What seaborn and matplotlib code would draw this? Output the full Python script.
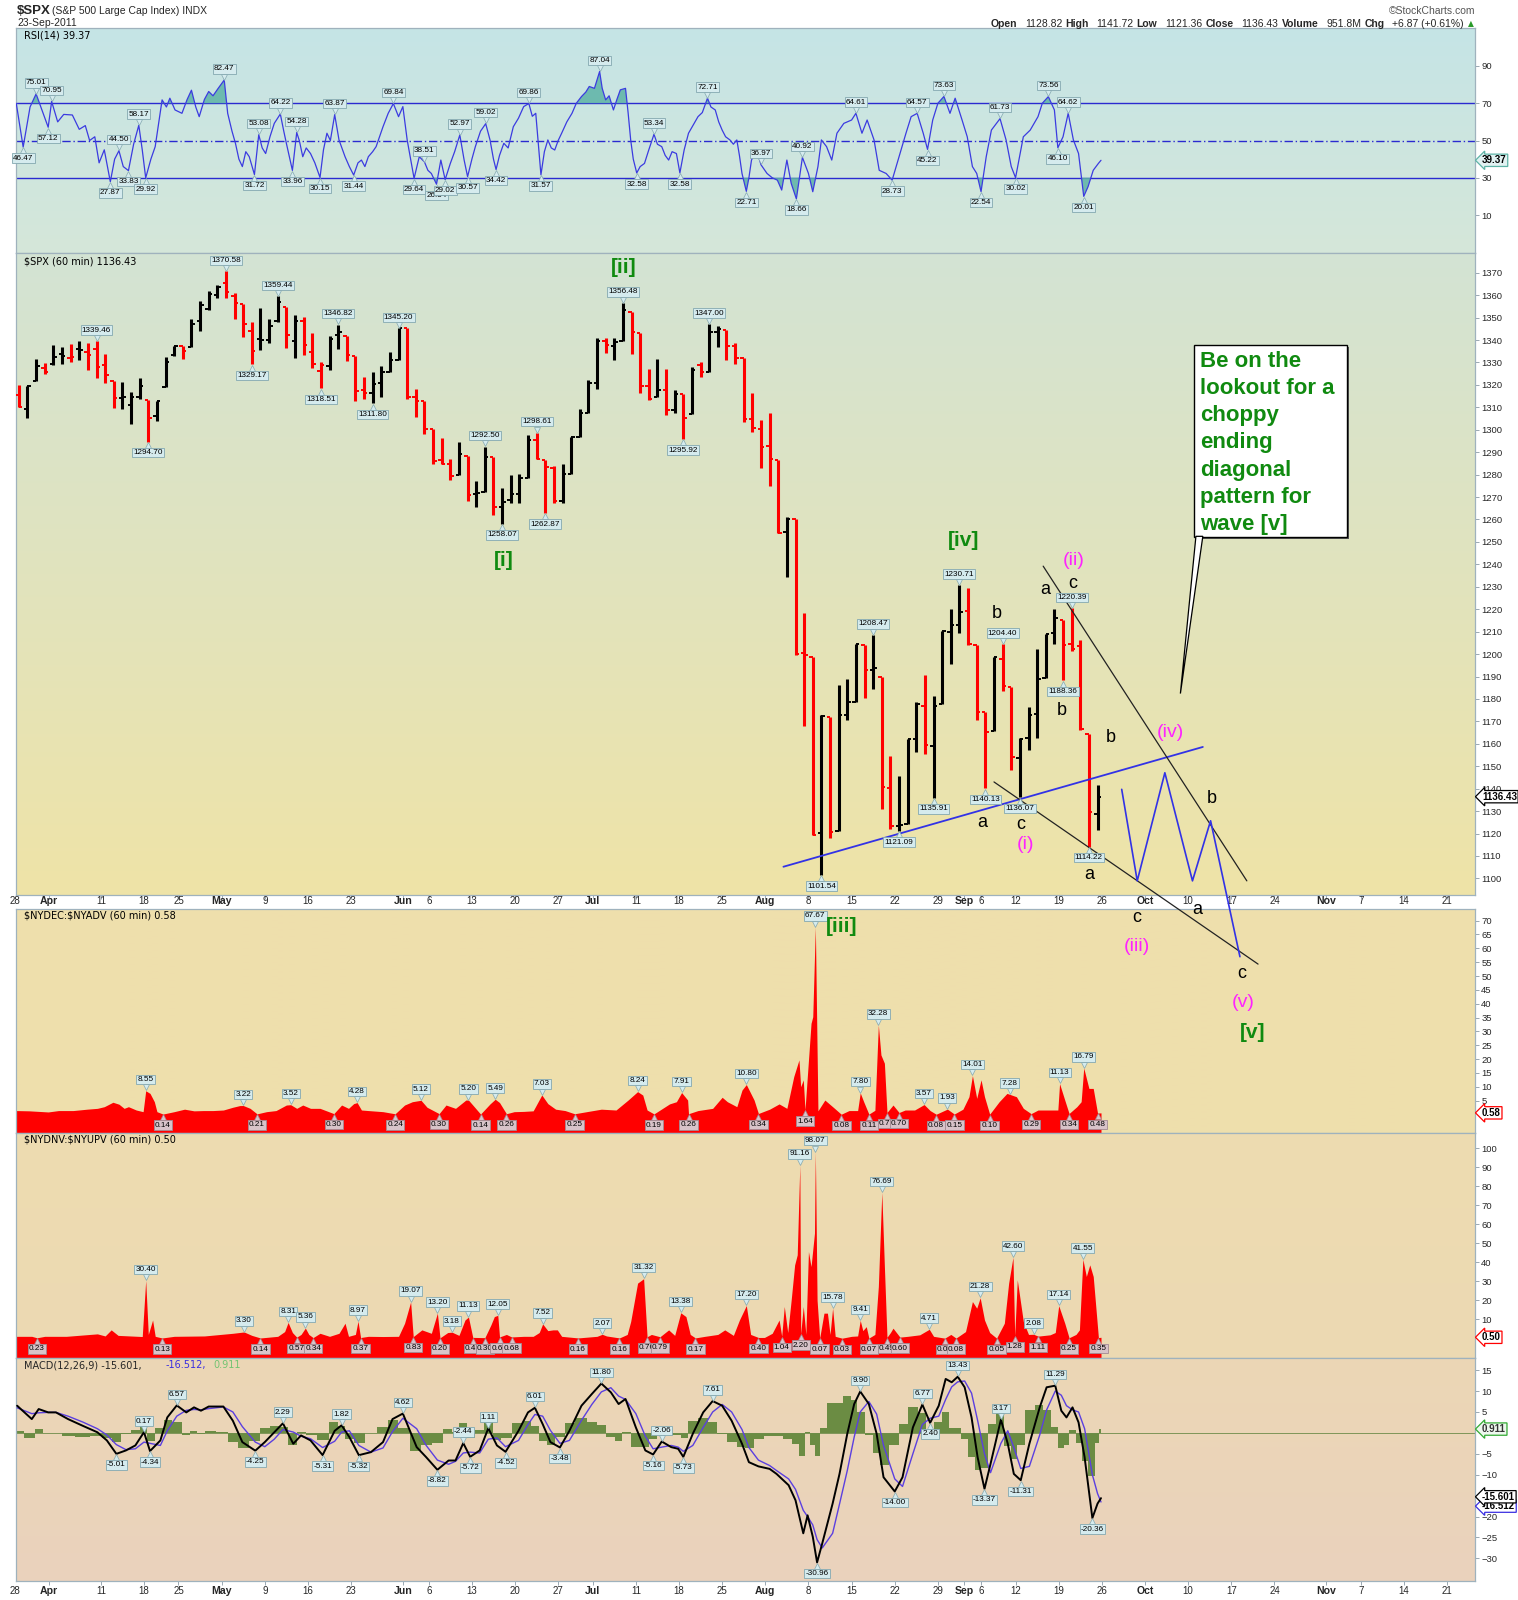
import numpy as np
import pandas as pd
import matplotlib
matplotlib.use("Agg")
import matplotlib.pyplot as plt
import matplotlib.transforms as mtransforms
from matplotlib.colors import LinearSegmentedColormap
from matplotlib.patches import Rectangle, Polygon
import seaborn as sns

sns.set_style("white")
plt.rcParams['font.family'] = ['Liberation Sans', 'DejaVu Sans']

# ---------------- trading calendar / axis labels ----------------
holidays = ['2011-04-22', '2011-05-30', '2011-07-04', '2011-09-05', '2011-11-24']
days = pd.bdate_range('2011-03-28', '2011-11-25')
days = days[~days.isin(pd.to_datetime(holidays))]

tick_dates = ['2011-03-28', '2011-04-01', '2011-04-11', '2011-04-18', '2011-04-25', '2011-05-02',
              '2011-05-09', '2011-05-16', '2011-05-23', '2011-06-01', '2011-06-06', '2011-06-13',
              '2011-06-20', '2011-06-27', '2011-07-01', '2011-07-11', '2011-07-18', '2011-07-25',
              '2011-08-01', '2011-08-08', '2011-08-15', '2011-08-22', '2011-08-29', '2011-09-01',
              '2011-09-06', '2011-09-12', '2011-09-19', '2011-09-26', '2011-10-03', '2011-10-10',
              '2011-10-17', '2011-10-24', '2011-11-01', '2011-11-07', '2011-11-14', '2011-11-21']
tick_labels = ['28', 'Apr', '11', '18', '25', 'May', '9', '16', '23', 'Jun', '6', '13', '20', '27',
               'Jul', '11', '18', '25', 'Aug', '8', '15', '22', '29', 'Sep', '6', '12', '19', '26',
               'Oct', '10', '17', '24', 'Nov', '7', '14', '21']

# ---------------- $SPX daily OHLC (Mar 28 - Sep 23, 2011) ----------------
spx_open = [
    1315.45, 1309.37, 1321.89, 1327.44, 1329.48,
    1333.56, 1332.03, 1335.94, 1334.82, 1336.16,
    1329.01, 1321.96, 1314.03, 1311.13, 1314.54,
    1313.35, 1305.99, 1319.12, 1333.23,
    1337.14, 1336.75, 1348.43, 1353.86, 1360.14,
    1365.21, 1359.76, 1355.90, 1344.16, 1340.24,
    1340.20, 1348.34, 1354.51, 1339.39, 1348.69,
    1334.77, 1326.10, 1328.54, 1342.40, 1342.00,
    1333.07, 1317.70, 1316.36, 1320.64, 1325.69,
    1331.10, 1345.20, 1314.55, 1312.94,
    1300.26, 1286.31, 1284.63, 1279.63, 1288.26,
    1271.31, 1272.22, 1287.87, 1265.53, 1268.58,
    1271.50, 1278.40, 1295.48, 1286.60, 1283.04,
    1268.44, 1280.21, 1296.85, 1307.64, 1320.64,
    1339.59, 1337.56, 1339.62, 1352.39,
    1343.31, 1319.61, 1314.45, 1317.74, 1308.87,
    1315.94, 1307.07, 1328.66, 1325.65, 1343.80,
    1344.32, 1337.39, 1331.91, 1304.84, 1300.12,
    1292.59, 1286.56, 1254.25, 1260.23, 1200.28,
    1198.48, 1120.23, 1171.77, 1121.30, 1172.87,
    1178.86, 1204.22, 1192.89, 1189.62, 1140.47,
    1123.55, 1124.36, 1162.16, 1176.69, 1158.85,
    1177.91, 1209.76, 1213.00, 1219.12, 1203.90,
    1173.97, 1165.85, 1197.98, 1185.37,
    1153.50, 1162.59, 1173.32, 1189.44, 1209.21,
    1214.99, 1204.50, 1203.63, 1164.55, 1128.82]
spx_high = [
    1319.74, 1319.45, 1331.74, 1329.77, 1337.85,
    1336.74, 1338.21, 1339.38, 1338.80, 1339.46,
    1333.77, 1321.96, 1321.35, 1316.79, 1322.88,
    1313.35, 1312.70, 1332.66, 1337.49,
    1337.55, 1349.55, 1357.49, 1361.71, 1364.56,
    1370.58, 1360.84, 1355.90, 1348.00, 1354.36,
    1349.44, 1359.44, 1354.51, 1351.05, 1350.47,
    1343.33, 1330.42, 1341.82, 1346.82, 1342.00,
    1333.07, 1323.72, 1325.86, 1328.51, 1334.62,
    1345.20, 1345.20, 1318.03, 1312.94,
    1300.26, 1296.22, 1287.04, 1294.54, 1288.26,
    1277.04, 1292.50, 1287.87, 1274.11, 1279.82,
    1280.42, 1297.62, 1298.61, 1286.60, 1283.93,
    1284.91, 1296.80, 1309.21, 1321.97, 1341.01,
    1340.89, 1340.94, 1356.48, 1352.39,
    1343.31, 1327.17, 1331.48, 1326.88, 1317.70,
    1315.94, 1328.14, 1330.43, 1347.00, 1346.10,
    1344.32, 1338.51, 1331.91, 1316.32, 1304.16,
    1307.38, 1286.56, 1261.20, 1260.23, 1218.11,
    1198.48, 1172.88, 1171.77, 1186.29, 1189.04,
    1204.49, 1204.22, 1208.47, 1189.62, 1154.54,
    1145.49, 1162.35, 1178.56, 1190.68, 1181.23,
    1210.28, 1220.10, 1230.71, 1229.29, 1203.90,
    1173.97, 1198.62, 1204.40, 1185.37,
    1162.52, 1176.41, 1202.38, 1209.11, 1220.06,
    1214.99, 1220.39, 1206.30, 1164.55, 1141.72]
spx_low = [
    1310.19, 1305.26, 1321.89, 1325.03, 1328.89,
    1329.10, 1330.03, 1331.09, 1326.56, 1322.94,
    1321.06, 1309.51, 1309.19, 1302.42, 1313.68,
    1294.70, 1303.97, 1319.12, 1332.81,
    1331.47, 1336.75, 1344.25, 1353.60, 1358.69,
    1358.59, 1349.52, 1341.50, 1329.17, 1335.58,
    1338.64, 1348.00, 1336.36, 1332.03, 1333.36,
    1327.32, 1318.51, 1326.59, 1336.12, 1330.67,
    1312.88, 1313.87, 1311.80, 1314.41, 1325.69,
    1331.10, 1313.71, 1305.61, 1297.90,
    1284.72, 1284.74, 1277.42, 1279.63, 1268.28,
    1265.64, 1272.22, 1261.90, 1258.07, 1267.40,
    1267.56, 1278.40, 1286.79, 1262.87, 1267.24,
    1267.53, 1280.21, 1296.85, 1307.64, 1318.18,
    1334.30, 1330.92, 1339.62, 1333.71,
    1316.42, 1313.33, 1314.45, 1306.51, 1307.35,
    1295.92, 1307.07, 1323.65, 1325.65, 1336.95,
    1331.09, 1329.10, 1303.49, 1299.16, 1282.86,
    1274.73, 1254.03, 1234.56, 1199.54, 1168.09,
    1119.28, 1101.54, 1118.01, 1121.30, 1170.74,
    1178.86, 1180.53, 1184.36, 1131.03, 1122.05,
    1121.09, 1124.36, 1156.30, 1155.47, 1135.91,
    1177.91, 1195.77, 1209.35, 1203.85, 1170.56,
    1140.13, 1165.85, 1183.34, 1148.37,
    1136.07, 1157.44, 1162.73, 1189.44, 1204.46,
    1188.36, 1201.29, 1166.21, 1114.22, 1121.36]
spx_close = [
    1310.19, 1319.44, 1328.26, 1325.83, 1332.41,
    1332.87, 1332.63, 1335.54, 1333.51, 1328.17,
    1324.46, 1314.16, 1314.41, 1314.52, 1319.68,
    1305.14, 1312.62, 1330.36, 1337.38,
    1335.25, 1347.24, 1355.66, 1360.48, 1363.61,
    1361.22, 1356.62, 1347.32, 1335.10, 1340.20,
    1346.29, 1357.16, 1342.08, 1348.65, 1337.77,
    1329.47, 1328.98, 1340.68, 1343.60, 1333.27,
    1317.37, 1316.28, 1320.47, 1325.69, 1331.10,
    1345.20, 1314.55, 1312.94, 1300.16,
    1286.17, 1284.94, 1279.56, 1289.00, 1270.98,
    1271.83, 1287.87, 1265.42, 1267.64, 1271.50,
    1278.36, 1295.52, 1287.14, 1283.50, 1268.45,
    1280.10, 1296.67, 1307.41, 1320.64, 1339.67,
    1337.88, 1339.22, 1353.22, 1343.80,
    1319.49, 1313.64, 1317.72, 1308.87, 1316.14,
    1305.44, 1326.73, 1325.84, 1343.80, 1345.02,
    1337.43, 1331.94, 1304.89, 1300.67, 1292.28,
    1286.94, 1254.05, 1260.34, 1200.07, 1199.38,
    1119.46, 1172.53, 1120.76, 1172.64, 1178.81,
    1204.49, 1192.76, 1193.89, 1140.65, 1123.53,
    1123.82, 1162.35, 1177.60, 1159.27, 1176.80,
    1210.08, 1212.92, 1218.89, 1204.42, 1173.97,
    1165.24, 1198.62, 1185.90, 1154.23,
    1162.27, 1172.87, 1188.68, 1209.11, 1216.01,
    1204.09, 1202.09, 1166.76, 1129.56, 1136.43]
spx_peak_days = [9, 24, 30, 37, 44, 54, 60, 70, 80, 99, 109, 114, 122]
spx_trough_days = [15, 27, 35, 41, 56, 61, 77, 93, 102, 106, 112, 116, 121, 124]

# ---------------- RSI(14) ----------------
rsi_x = [0.2, 1.0, 1.8, 2.5, 3.2, 3.9, 4.3, 5.0, 5.7, 6.7, 7.5, 8.2, 8.7, 9.3, 9.8, 10.4, 11.1, 11.6,
         12.1, 12.6, 13.2, 13.8, 14.4, 14.8, 15.2, 15.8, 16.3, 17.1, 17.6, 18.0, 18.6, 19.4, 20.0,
         20.5, 21.0, 21.4, 22.0, 22.5, 23.0, 23.6, 24.3, 24.7, 25.2, 25.6, 26.0, 26.4, 26.8, 27.2,
         27.8, 28.3, 28.7, 29.1, 29.6, 30.1, 30.8, 31.2, 31.5, 32.2, 32.7, 33.0, 33.4, 33.8, 34.3,
         34.8, 35.4, 35.8, 36.2, 36.6, 37.1, 37.6, 38.3, 38.8, 39.3, 39.8, 40.2, 40.6, 41.0, 41.5,
         41.9, 42.3, 42.7, 43.3, 43.9, 44.5, 45.0, 45.5, 45.9, 46.3, 46.9, 47.5, 47.9, 48.3, 48.9,
         49.4, 49.9, 50.5, 51.0, 51.6, 52.1, 52.5, 53.0, 53.4, 54.0, 54.6, 55.1, 55.5, 55.8, 56.2,
         56.7, 57.2, 57.8, 58.4, 59.0, 59.6, 60.0, 60.4, 60.7, 61.0, 61.4, 61.8, 62.2, 62.6, 63.0,
         63.4, 64.0, 64.6, 65.1, 65.7, 66.2, 66.6, 67.2, 67.8, 68.1, 68.5, 68.9, 69.4, 69.8, 70.2,
         70.8, 71.1, 71.4, 71.7, 72.1, 72.5, 73.0, 73.5, 74.1, 74.5, 75.0, 75.4, 75.8, 76.2, 76.7,
         77.1, 77.6, 78.1, 78.6, 79.2, 79.7, 80.3, 80.7, 81.2, 81.6, 82.0, 82.4, 82.9, 83.3, 83.7,
         84.0, 84.3, 84.8, 85.1, 85.4, 86.0, 86.5, 87.2, 87.8, 88.4, 88.9, 89.5, 90.0, 90.6, 91.3,
         92.0, 92.5, 93.1, 93.5, 94.1, 94.7, 95.3, 96.1, 97.0, 97.5, 98.2, 98.8, 99.6, 100.2, 101.0,
         101.7, 102.5, 103.3, 103.9, 104.6, 105.3, 105.8, 106.4, 107.0, 107.7, 108.4, 109.0, 109.8,
         110.4, 111.0, 111.5, 112.0, 112.6, 113.2, 114.2, 114.9, 115.5, 116.0, 116.9, 117.7, 118.6,
         119.1, 119.8, 120.5, 120.9, 121.5, 122.1, 122.7, 123.3, 123.9, 124.4, 125.0, 125.6, 125.9]
rsi_v = [70, 46.47, 68, 75.01, 66, 57.12, 70.95, 60, 64, 63.7, 56, 58, 50, 52, 38, 45, 27.87, 40,
         44.50, 36, 33.83, 48, 58.17, 45, 29.92, 40, 46.7, 71.8, 68, 72.7, 66.4, 64.6, 72,
         77, 68, 62.8, 72, 76.3, 74, 78, 82.47, 64.6, 55, 48.5, 40, 36, 44, 41.3,
         31.72, 53.08, 46, 43, 52, 59.2, 64.22, 55, 48.5, 33.96, 54.28, 50, 41.3, 46, 43,
         38, 30.15, 45, 53.9, 50, 63.87, 50.3, 41.3, 36, 31.44, 38, 39.5, 36, 41.3, 44,
         46.7, 52, 57.4, 64.6, 69.84, 62.8, 68.2, 50.3, 40, 29.64, 41.3, 38.51, 34, 32.3, 26.54,
         39.5, 29.02, 37.7, 44, 52.97, 39.5, 30.57, 40, 46.7, 55, 59.02, 50.3, 40, 34.42, 42,
         48.5, 46, 57.4, 62, 68.2, 69.86, 63, 64.6, 48, 31.57, 44, 50.3, 46, 44.9, 50,
         53.9, 60, 64.6, 70, 73.6, 76, 79, 78, 87.04, 78, 71.8, 74, 66.4, 72, 77.2,
         78, 65, 50.3, 40, 32.58, 36, 37.7, 45, 53.34, 48, 46.7, 42, 39.5, 44, 43,
         32.58, 45, 53.9, 58, 62.8, 65, 72.71, 68, 66.4, 60, 55.6, 52, 50.3, 48, 50.3,
         42, 32.3, 22.71, 30, 39.5, 44.9, 36.97, 32.3, 30, 28.7, 23.4, 39.5, 27, 18.66, 40.92,
         32.3, 22.5, 36, 50.3, 46.7, 39.5, 53.9, 59.2, 61, 64.61, 53.9, 61, 50.3, 34, 32.3,
         28.73, 41.3, 53.9, 62.8, 64.57, 53.9, 45.22, 61, 70, 73.63, 64.6, 72.7, 61,
         52, 36, 32.3, 22.54, 41.3, 55.6, 61.73, 50.3, 36, 30.02, 52, 55.6, 62.8,
         70, 73.56, 66.4, 46.10, 52, 64.62, 50.3, 43, 20.01, 25.2, 34, 37.7, 39.37]
rsi_peak_x = [2.5, 4.3, 12.1, 14.4, 24.3, 28.3, 30.8, 32.7, 37.1, 43.9, 47.5, 51.6, 54.6, 59.6,
              67.8, 74.1, 80.3, 86.5, 91.3, 97.5, 104.6, 107.7, 114.2, 119.8, 122.1]
rsi_trough_x = [1.0, 3.9, 11.1, 13.2, 15.2, 27.8, 32.2, 35.4, 39.3, 46.3, 48.9, 49.9, 52.5, 55.8,
                61.0, 72.1, 77.1, 84.8, 90.6, 101.7, 105.8, 112.0, 116.0, 120.9, 123.9]

# ---------------- $NYDEC:$NYADV ----------------
dec_x = [0.2, 1.7, 3.9, 5.1, 6.8, 8.4, 9.6, 10.4, 11.4, 12.1, 12.7, 13.2, 14.1, 14.9, 15.2, 15.7,
         16.2, 16.5, 17.2, 18.5, 19.7, 20.8, 21.9, 23.0, 24.2, 25.3, 26.1, 26.5, 27.3, 28.1, 29.2,
         30.3, 31.5, 32.0, 32.7, 33.4, 34.3, 35.4, 37.0, 37.9, 38.7, 39.3, 39.7, 40.2, 41.0, 42.7,
         44.1, 45.2, 46.1, 47.1, 47.8, 49.2, 50.0, 51.1, 52.3, 52.6, 53.1, 54.0, 55.1, 55.7, 56.2,
         57.0, 57.9, 59.0, 60.1, 61.1, 61.8, 62.7, 63.8, 64.9, 66.3, 68.0, 69.7, 71.1, 72.2, 72.8,
         73.3, 74.1, 75.9, 76.7, 77.3, 78.0, 78.1, 79.2, 80.9, 82.0, 82.6, 83.7, 84.3, 84.8, 85.7,
         86.2, 87.5, 88.6, 89.5, 90.3, 90.9, 91.1, 91.4, 91.6, 92.3, 92.5, 92.8, 93.1, 93.9, 94.8,
         95.8, 96.7, 97.7, 98.0, 98.4, 99.0, 99.7, 100.1, 100.4, 100.8, 101.1, 101.8, 102.5, 103.2,
         104.3, 105.4, 106.1, 106.8, 108.1, 108.9, 109.9, 110.6, 111.0, 111.5, 112.0, 112.4, 113.0,
         114.1, 115.0, 115.3, 116.1, 116.9, 117.8, 118.6, 120.0, 120.9, 121.1, 121.7, 122.2, 123.1,
         123.6, 123.9, 124.5, 125.0, 125.5, 125.9]
dec_v = [1.4, 1.3, 0.9, 1.4, 1.4, 1.9, 2.2, 2.8, 4.4, 3.7, 2.2, 2.8, 1.6, 1.0, 8.55, 7.6,
         4.6, 1.0, 0.14, 1.0, 1.9, 1.3, 1.4, 1.4, 1.6, 2.6, 3.2, 3.22, 2.2, 0.21, 1.0,
         1.4, 3.4, 3.52, 2.2, 3.4, 2.2, 2.2, 0.30, 3.4, 2.2, 3.9, 4.28, 1.6, 1.4, 1.0,
         0.24, 3.4, 4.6, 5.12, 2.6, 0.30, 3.4, 2.2, 5.2, 5.20, 3.4, 0.14, 3.8, 5.49, 4.3,
         0.26, 1.0, 1.1, 1.3, 7.03, 3.9, 1.9, 1.4, 0.25, 1.0, 1.9, 1.6, 5.2, 8.24, 7.0,
         1.6, 0.19, 3.8, 4.6, 7.91, 5.2, 0.26, 1.4, 2.2, 6.2, 4.6, 2.8, 8.8, 10.80, 5.2,
         0.34, 1.9, 3.8, 2.2, 13.7, 19.7, 10.0, 12.5, 1.64, 32.9, 35.3, 67.67, 1.3, 5.2, 2.8,
         0.08, 1.4, 1.4, 7.80, 4.6, 0.11, 1.5, 32.28, 21.5, 18.5, 0.71, 3.4, 0.7, 1.6,
         1.6, 3.57, 1.4, 0.08, 1.93, 0.15, 1.9, 6.4, 14.01, 5.8, 12.5, 6.4, 0.10,
         4.6, 7.6, 7.28, 6.4, 2.2, 0.29, 1.6, 1.6, 1.6, 11.13, 5.2, 0.34, 2.8,
         4.6, 16.79, 9.4, 9.4, 0.48, 0.58]
dec_peak_x = [15.2, 26.5, 32.0, 39.7, 47.1, 52.6, 55.7, 61.1, 72.2, 77.3, 84.8, 92.8, 98.0,
              100.1, 105.4, 108.1, 111.0, 115.3, 121.1, 123.9]
dec_trough_x = [17.2, 28.1, 37.0, 44.1, 49.2, 54.0, 57.0, 64.9, 74.1, 78.1, 86.2, 91.6, 95.8,
                99.0, 101.1, 102.5, 106.8, 108.9, 113.0, 117.8, 122.2, 125.5]

# ---------------- $NYDNV:$NYUPV ----------------
dnv_x = [0.2, 2.0, 2.6, 3.5, 6.0, 9.6, 10.5, 11.2, 12.0, 14.8, 15.2, 15.5, 16.0, 16.3, 17.1, 18.5,
         22.0, 25.3, 26.6, 27.5, 28.5, 30.5, 31.3, 31.7, 32.2, 32.7, 33.2, 33.7, 34.1, 34.6, 35.4,
         36.5, 37.6, 38.3, 38.7, 39.5, 39.8, 40.1, 41.0, 42.7, 44.5, 45.2, 45.9, 46.2, 47.2, 48.3,
         49.0, 49.3, 50.2, 50.7, 51.5, 52.2, 52.6, 53.1, 54.5, 55.2, 55.6, 56.0, 56.2, 57.0, 57.6,
         59.0, 60.1, 60.8, 61.2, 61.8, 62.4, 62.9, 63.4, 65.3, 67.5, 68.1, 68.6, 70.1, 71.0, 71.4,
         72.2, 72.9, 73.3, 73.8, 74.8, 75.8, 76.5, 77.2, 77.8, 78.3, 78.9, 80.0, 81.5, 82.3, 83.3,
         84.0, 84.8, 85.3, 86.2, 86.9, 87.8, 88.6, 88.9, 89.2, 89.6, 90.0, 90.4, 90.7, 91.0, 91.1,
         91.4, 91.7, 92.0, 92.3, 92.7, 92.8, 93.0, 93.3, 93.8, 94.2, 94.5, 94.8, 95.1, 95.9, 97.0,
         97.7, 98.0, 98.3, 98.7, 99.0, 99.7, 100.1, 100.5, 100.8, 101.1, 101.5, 101.8, 102.6, 103.5,
         104.9, 106.0, 106.5, 107.8, 108.5, 109.1, 110.2, 111.0, 111.5, 111.9, 112.4, 113.0, 113.8,
         114.7, 115.2, 115.7, 115.9, 116.2, 116.9, 117.5, 118.1, 118.6, 120.0, 120.6, 121.0, 121.7,
         122.2, 123.0, 123.4, 123.8, 124.2, 124.6, 125.0, 125.6, 125.9]
dnv_v = [1.0, 1.0, 0.23, 1.0, 1.0, 2.3, 1.2, 4.4, 1.5, 0.9, 30.40, 2.0, 9.6, 1.0, 0.13, 1.0,
         1.2, 2.6, 3.30, 1.5, 0.14, 1.0, 3.5, 8.31, 3.0, 0.57, 2.0, 5.36, 2.0, 0.34, 2.6,
         1.0, 2.6, 7.9, 1.0, 2.0, 8.97, 0.37, 1.0, 0.9, 1.0, 7.9, 19.07, 0.83, 4.4, 2.6,
         13.20, 0.20, 3.0, 3.18, 1.5, 9.6, 11.13, 0.45, 0.3, 7.0, 11.4, 12.05, 0.67, 2.0, 0.68,
         1.0, 1.0, 3.0, 7.52, 4.0, 4.4, 4.4, 1.0, 0.16, 1.0, 2.07, 1.2, 0.16, 2.0, 8.8,
         29.0, 31.32, 0.76, 2.0, 0.79, 4.4, 1.5, 13.38, 11.4, 2.0, 0.17, 1.0, 2.0, 4.4, 1.5,
         9.6, 17.20, 2.0, 0.4, 0.41, 2.6, 9.6, 1.04, 16.7, 3.0, 20.2, 38.6, 43.9, 91.16, 2.20,
         16.7, 2.0, 45.6, 37.7, 55.3, 98.07, 20.0, 0.07, 13.2, 13.2, 2.0, 15.78, 1.0, 0.03, 1.0,
         1.2, 9.41, 4.0, 6.1, 0.07, 2.0, 27.2, 76.69, 37.7, 0.49, 3.0, 5.3, 0.6, 1.0,
         1.8, 4.71, 1.0, 0.05, 2.0, 0.08, 3.5, 19.3, 15.8, 21.28, 9.6, 3.0, 0.05,
         7.9, 29.0, 42.60, 1.28, 30.7, 8.8, 2.0, 2.08, 1.11, 1.8, 3.0, 17.14, 7.9,
         0.25, 2.0, 4.4, 41.55, 32.5, 38.6, 32.5, 0.35, 0.50]
dnv_peak_x = [15.2, 26.6, 31.7, 33.7, 39.8, 45.9, 49.0, 50.7, 52.6, 56.0, 61.2, 68.1, 72.9, 77.2,
              84.8, 91.0, 92.8, 94.8, 98.0, 100.5, 106.0, 111.9, 115.7, 118.1, 121.0, 123.8]
dnv_trough_x = [2.6, 17.1, 28.5, 32.7, 34.6, 40.1, 46.2, 49.3, 53.1, 54.5, 56.2, 57.6, 65.3, 70.1,
                73.3, 74.8, 78.9, 86.2, 88.9, 91.1, 93.3, 95.9, 99.0, 101.1, 102.6, 107.8, 109.1,
                113.8, 115.9, 118.6, 122.2, 125.6]

# ---------------- MACD(12,26,9) ----------------
macd_x = [0.3, 2.0, 2.8, 3.9, 4.8, 6.2, 7.9, 9.6, 10.7, 11.8, 12.9, 14.0, 15.0, 15.7, 16.9, 17.7,
          18.8, 19.9, 20.8, 21.6, 22.5, 24.2, 25.3, 26.4, 27.9, 29.0, 30.1, 31.1, 32.3, 33.2, 34.3,
          35.7, 37.1, 37.9, 38.8, 39.9, 41.3, 42.7, 43.8, 45.0, 46.6, 47.7, 49.0, 50.3, 51.1, 52.0,
          52.8, 53.9, 54.9, 55.9, 56.9, 58.4, 59.5, 60.3, 61.2, 62.1, 63.2, 64.3, 65.7, 66.9, 68.0,
          69.1, 70.0, 70.8, 72.0, 73.1, 74.0, 75.0, 76.1, 76.9, 77.5, 78.6, 79.8, 80.9, 82.0, 83.1,
          84.3, 85.1, 86.2, 87.5, 88.3, 89.7, 90.5, 91.4, 91.9, 92.5, 93.0, 93.6, 94.8, 95.6, 96.5,
          97.3, 98.0, 99.0, 99.9, 100.7, 102.0, 102.9, 104.1, 105.2, 106.1, 107.1, 107.9, 108.6,
          109.3, 110.1, 110.9, 111.6, 112.4, 113.1, 114.3, 115.1, 115.8, 116.6, 117.6, 118.8, 119.6,
          120.6, 121.3, 121.9, 122.6, 123.3, 124.0, 124.9, 125.5, 125.9]
macd_line = [6.5, 3.3, 5.7, 4.9, 4.9, 3.3, 1.7, 0.15, -1.8, -5.01, -4.2, -3.0, 0.17, -4.34, -1.8, 3.7,
             6.57, 4.9, 6.1, 5.3, 6.3, 6.3, 2.9, -2.2, -4.25, -2.2, 0.15, 2.29, -2.6, -0.6, -1.8,
             -5.31, 0.5, 1.82, -1.0, -5.32, -4.6, -2.2, 3.3, 4.62, -3.4, -5.8, -8.82, -6.6, -6.6, -2.44,
             -5.72, -4.2, 1.11, -3.0, -4.52, 0.5, 4.9, 6.01, 2.1, -2.2, -3.48, 0.5, 6.5, 9.3, 11.80,
             9.7, 6.9, 8.1, 1.3, -4.2, -5.16, -2.06, -3.4, -3.8, -5.73, -0.2, 4.9, 7.61, 6.5, 2.9,
             -2.6, -7.0, -8.0, -8.6, -9.8, -12.5, -16.1, -24.0, -19.7, -24.8, -30.96, -26.4, -16.9, -9.8, -0.2,
             6.9, 9.90, 6.9, -0.2, -10.6, -14.00, -10.6, 1.3, 6.77, 2.40, 6.5, 12.9, 12.1,
             13.43, 10.9, 3.7, -5.8, -13.37, -7.4, 3.17, -2.6, -9.8, -11.31, -2.6, 6.1, 10.9,
             11.29, 5.3, 3.7, 6.1, 2.5, -5.8, -20.36, -16.9, -15.601]
macd_signal = [6.0, 4.6, 4.8, 4.9, 4.9, 4.0, 2.6, 1.0, -0.5, -2.8, -4.0, -3.8, -2.2, -2.5, -3.0, 0.5,
               4.0, 5.4, 5.6, 5.5, 5.8, 6.2, 5.0, 1.5, -2.2, -3.3, -1.5, 0.8, 0.2, -0.8, -1.4,
               -3.5, -2.0, 0.2, 0.5, -3.0, -4.6, -3.6, 0.3, 3.5, 1.0, -3.0, -6.5, -7.5, -6.8, -4.8,
               -4.6, -4.8, -1.5, -1.2, -3.3, -1.8, 2.0, 4.4, 4.0, 0.6, -2.5, -1.8, 3.0, 6.8, 9.8,
               10.8, 8.8, 8.0, 4.6, -0.8, -3.8, -3.4, -3.0, -3.4, -4.4, -3.0, 1.3, 5.0, 6.8, 5.0,
               0.8, -3.5, -6.5, -7.8, -9.0, -11.0, -13.5, -18.5, -20.0, -22.0, -25.5, -27.5, -24.0, -17.0, -9.0,
               -1.0, 5.0, 7.5, 4.5, -3.0, -11.0, -12.8, -5.0, 2.0, 3.5, 4.0, 8.0, 11.0,
               12.2, 12.4, 9.5, 3.0, -5.0, -9.5, -2.5, 0.5, -3.5, -8.5, -8.0, -0.5, 5.5,
               10.0, 9.0, 6.5, 5.5, 5.0, 1.0, -10.0, -14.5, -16.512]
macd_peak_x = [15.0, 18.8, 31.1, 37.9, 45.0, 52.0, 54.9, 60.3, 68.0, 75.0, 80.9, 98.0, 105.2, 109.3,
               114.3, 120.6]
macd_trough_x = [11.8, 15.7, 27.9, 35.7, 39.9, 49.0, 52.8, 56.9, 63.2, 74.0, 77.5, 93.0, 102.0,
                 106.1, 112.4, 116.6, 124.9]

# ---------------- Elliott wave annotations (day index, price) ----------------
wave_text = ['[ii]', '[i]', '[iv]', '[iii]', '[v]',
             '(ii)', '(iv)', '(i)', '(iii)', '(v)',
             'a', 'c', 'b', 'b', 'b', 'b', 'a', 'c', 'a', 'a', 'c', 'c']
wave_x = [70.6, 56.7, 110.0, 95.8, 143.5,
          122.7, 133.9, 117.1, 130.0, 142.4,
          119.4, 122.6, 113.8, 121.3, 127.0, 138.7, 112.1, 116.6, 124.5, 137.1, 130.0, 142.2]
wave_y = [1372.5, 1241.5, 1250.8, 1078.7, 1031.5,
          1241.8, 1164.9, 1115.3, 1069.5, 1044.6,
          1228.8, 1231.5, 1218.1, 1175.0, 1162.8, 1135.6, 1124.8, 1124.2, 1101.9, 1086.2, 1082.6, 1057.7]
trend_blue_x, trend_blue_y = [89.1, 137.7], [1105.2, 1158.6]
trend_top_x, trend_top_y = [119.2, 142.8], [1239.2, 1098.9]
trend_bot_x, trend_bot_y = [113.5, 144.1], [1143.0, 1061.8]
path_x = [128.3, 130.1, 133.3, 136.5, 138.6, 142.0]
path_y = [1139.7, 1098.9, 1147.1, 1098.9, 1125.7, 1065.1]
note_text = "Be on the\nlookout for a\nchoppy\nending\ndiagonal\npattern for\nwave [v]"

# ---------------- figure ----------------
W, H = 1518, 1600
fig = plt.figure(figsize=(W / 100, H / 100), dpi=100)
fig.patch.set_facecolor('white')


def frame(top, bottom, left=16, right=1475):
    return [left / W, 1 - bottom / H, (right - left) / W, (bottom - top) / H]


ax_rsi = fig.add_axes(frame(28, 253))
ax_spx = fig.add_axes(frame(253, 895))
ax_dec = fig.add_axes(frame(909, 1133))
ax_dnv = fig.add_axes(frame(1133, 1358))
ax_macd = fig.add_axes(frame(1358, 1581))
ax_spx.set_zorder(5)
panels = [ax_rsi, ax_spx, ax_dec, ax_dnv, ax_macd]
XLIM = (0.17, 169.24)
ylims = {ax_rsi: (-10.4, 110.4), ax_spx: (1092.6, 1378.8), ax_dec: (-6.7, 74.2),
         ax_dnv: (-10.4, 108.0), ax_macd: (-35.4, 17.9)}
yticks = {ax_rsi: [10, 30, 50, 70, 90], ax_spx: list(range(1100, 1371, 10)),
          ax_dec: list(range(5, 71, 5)), ax_dnv: list(range(10, 101, 10)),
          ax_macd: [-30, -25, -20, -10, -5, 5, 10, 15]}


def shade(ax, top, bottom):
    cm = LinearSegmentedColormap.from_list('bg', [bottom, top])
    ax.imshow(np.linspace(0, 1, 256).reshape(-1, 1), cmap=cm, aspect='auto',
              extent=(0, 1, 0, 1), origin='lower', transform=ax.transAxes, zorder=0)


shade(ax_rsi, '#c5e4e6', '#d5e7d9')
shade(ax_spx, '#d3e4d4', '#efe3a7')
shade(ax_dec, '#efdfac', '#eedfad')
shade(ax_dnv, '#eedcb0', '#ecd9b3')
shade(ax_macd, '#ecd7b5', '#ead2bd')

BLUE_FC, BLUE_EC = '#d5ebee', '#84a8b0'
PINK_FC, PINK_EC = '#d8c3c9', '#a38a93'


def tag(ax, x, y, text, up=True, fc=BLUE_FC, ec=BLUE_EC):
    s = 1 if up else -1
    tr = mtransforms.offset_copy(ax.transData, fig=fig, x=0, y=s * 2.4, units='points')
    ax.plot([x], [y], marker='v' if up else '^', ms=4.6, mfc=fc, mec=ec, mew=0.5,
            transform=tr, clip_on=False, zorder=8)
    ax.annotate(text, (x, y), xytext=(0, s * 8.0), textcoords='offset points',
                ha='center', va='center', fontsize=5.9, color='black',
                bbox=dict(boxstyle='square,pad=0.15', fc=fc, ec=ec, lw=0.6),
                zorder=9, annotation_clip=False)


def side_tag(ax, v, text, ec, fc='white', color='black', dy=0):
    ax.annotate(text, (1.0, v), xycoords=ax.get_yaxis_transform(), xytext=(5, dy),
                textcoords='offset points', ha='left', va='center', fontsize=7,
                fontweight='bold', color=color,
                bbox=dict(boxstyle='larrow,pad=0.12', fc=fc, ec=ec, lw=0.9),
                annotation_clip=False, zorder=12)


def title(ax, px_y, top_px, height_px, text, color='black'):
    ax.text(8 / 1459, 1 - (px_y - top_px) / height_px, text, transform=ax.transAxes,
            ha='left', va='center', fontsize=7, color=color, family='DejaVu Sans', zorder=10)


# ---- RSI ----
ax = ax_rsi
rx, rv = np.array(rsi_x), np.array(rsi_v)
ax.fill_between(rx, rv, 70, where=rv > 70, interpolate=True, color='#5db3a6', alpha=0.85, lw=0, zorder=2)
ax.fill_between(rx, rv, 30, where=rv < 30, interpolate=True, color='#5db3a6', alpha=0.85, lw=0, zorder=2)
for lvl, ls in [(70, '-'), (30, '-'), (50, (0, (6, 2, 1, 2)))]:
    ax.axhline(lvl, color='#2a2ad0', lw=1.0, ls=ls, zorder=1)
sns.lineplot(x=rsi_x, y=rsi_v, ax=ax, color='#3b3be0', lw=0.9, zorder=3)
for x in rsi_peak_x:
    tag(ax, x, rsi_v[rsi_x.index(x)], f"{rsi_v[rsi_x.index(x)]:.2f}", up=True)
for x in rsi_trough_x:
    tag(ax, x, rsi_v[rsi_x.index(x)], f"{rsi_v[rsi_x.index(x)]:.2f}", up=False)
title(ax, 35, 28, 225, "RSI(14) 39.37")
side_tag(ax, rsi_v[-1], "39.37", ec='#5db3a6', fc='#e2f2f2')

# ---- SPX ----
ax = ax_spx
xs = np.arange(len(spx_close)) + 0.5
prev = [spx_open[0]] + spx_close[:-1]
cols = ['black' if c >= p else '#ff0000' for c, p in zip(spx_close, prev)]
ax.vlines(xs, spx_low, spx_high, colors=cols, lw=2.2, zorder=3)
ax.hlines(spx_open, xs - 0.4, xs, colors=cols, lw=1.4, zorder=3)
ax.hlines(spx_close, xs, xs + 0.4, colors=cols, lw=1.4, zorder=3)
for d in spx_peak_days:
    tag(ax, xs[d], spx_high[d], f"{spx_high[d]:.2f}", up=True)
for d in spx_trough_days:
    tag(ax, xs[d], spx_low[d], f"{spx_low[d]:.2f}", up=False)
title(ax, 261, 253, 642, "$SPX (60 min) 1136.43")
side_tag(ax, spx_close[-1], "1136.43", ec='black', fc='white')

ax.plot(trend_blue_x, trend_blue_y, color='#3232e6', lw=1.3, zorder=4, clip_on=False)
ax.plot(trend_top_x, trend_top_y, color='#222222', lw=0.9, zorder=4, clip_on=False)
ax.plot(trend_bot_x, trend_bot_y, color='#222222', lw=0.9, zorder=4, clip_on=False)
ax.plot(path_x, path_y, color='#3232e6', lw=1.2, zorder=4, clip_on=False)
for t, x, y in zip(wave_text, wave_x, wave_y):
    if t.startswith('['):
        kw = dict(color='#108a10', fontsize=15, fontweight='bold')
    elif t.startswith('('):
        kw = dict(color='#ff22ff', fontsize=14)
    else:
        kw = dict(color='black', fontsize=13)
    ax.text(x, y, t, ha='center', va='center', zorder=7, clip_on=False, **kw)

# callout box
bx0, bx1, by0, by1 = 136.65, 154.4, 1252.2, 1338.0
ax.add_patch(Rectangle((bx0 + 0.25, by0 - 1.0), bx1 - bx0, by1 - by0, fc='#555555', ec='none', zorder=5))
ax.add_patch(Rectangle((bx0, by0), bx1 - bx0, by1 - by0, fc='white', ec='black', lw=1.0, zorder=6))
ax.add_patch(Polygon([(136.9, by0 + 0.3), (137.7, by0 + 0.3), (135.1, 1182.4)], closed=True,
                     fc='white', ec='black', lw=0.9, zorder=6))
ax.text(137.35, 1335.0, note_text, ha='left', va='top', fontsize=16.0, fontweight='bold',
        color='#108a10', linespacing=1.38, zorder=7)

# ---- NYDEC:NYADV ----
ax = ax_dec
ax.fill_between(dec_x, dec_v, ylims[ax][0], color='#ff0000', lw=0, zorder=2)
for x in dec_peak_x:
    tag(ax, x, dec_v[dec_x.index(x)], f"{dec_v[dec_x.index(x)]:.2f}", up=True)
for x in dec_trough_x:
    tag(ax, x, dec_v[dec_x.index(x)], f"{dec_v[dec_x.index(x)]:.2f}", up=False, fc=PINK_FC, ec=PINK_EC)
title(ax, 916, 909, 224, r"\$NYDEC:\$NYADV (60 min) 0.58")
side_tag(ax, dec_v[-1], "0.58", ec='#ff0000')

# ---- NYDNV:NYUPV ----
ax = ax_dnv
ax.fill_between(dnv_x, dnv_v, ylims[ax][0], color='#ff0000', lw=0, zorder=2)
for x in dnv_peak_x:
    tag(ax, x, dnv_v[dnv_x.index(x)], f"{dnv_v[dnv_x.index(x)]:.2f}", up=True)
for x in dnv_trough_x:
    tag(ax, x, dnv_v[dnv_x.index(x)], f"{dnv_v[dnv_x.index(x)]:.2f}", up=False, fc=PINK_FC, ec=PINK_EC)
title(ax, 1140, 1133, 225, r"\$NYDNV:\$NYUPV (60 min) 0.50")
side_tag(ax, dnv_v[-1], "0.50", ec='#ff0000')

# ---- MACD ----
ax = ax_macd
mx = np.array(macd_x)
hist = np.array(macd_line) - np.array(macd_signal)
ax.fill_between(mx, hist, 0, step='mid', color='#55802f', lw=0, alpha=0.85, zorder=2)
ax.axhline(0, color='#6d8c4a', lw=0.6, zorder=2)
sns.lineplot(x=macd_x, y=macd_signal, ax=ax, color='#5b3fe0', lw=1.0, zorder=3)
sns.lineplot(x=macd_x, y=macd_line, ax=ax, color='black', lw=1.4, zorder=4)
for x in macd_peak_x:
    tag(ax, x, macd_line[macd_x.index(x)], f"{macd_line[macd_x.index(x)]:.2f}", up=True)
for x in macd_trough_x:
    tag(ax, x, macd_line[macd_x.index(x)], f"{macd_line[macd_x.index(x)]:.2f}", up=False)
ty = 1 - (1365 - 1358) / 223
ax.text(8 / 1459, ty, "MACD(12,26,9) -15.601,", transform=ax.transAxes, ha='left', va='center',
        fontsize=7, family='DejaVu Sans', zorder=10)
ax.text(150 / 1459, ty, "-16.512,", transform=ax.transAxes, ha='left', va='center',
        fontsize=7, family='DejaVu Sans', color='#3a2ee0', zorder=10)
ax.text(197 / 1459, ty, "0.911", transform=ax.transAxes, ha='left', va='center',
        fontsize=7, family='DejaVu Sans', color='#72c472', zorder=10)
side_tag(ax, hist[-1], "0.911", ec='#33aa33', fc='#eef8ee', color='#333333')
side_tag(ax, macd_signal[-1], "-16.512", ec='#3a2ee0', dy=-3)
side_tag(ax, macd_line[-1], "-15.601", ec='black', dy=1)

# ---- common axis styling ----
tick_pos = [days.get_loc(pd.Timestamp(d)) for d in tick_dates]
for ax in panels:
    ax.set_xlim(*XLIM)
    ax.set_ylim(*ylims[ax])
    ax.set_yticks(yticks[ax])
    ax.yaxis.tick_right()
    ax.tick_params(axis='y', right=True, left=False, labelright=True, labelleft=False,
                   length=3, width=0.6, color='#8a9aa6', labelsize=6.8, pad=1.5)
    ax.set_xticks([p for p in tick_pos if p >= XLIM[0]])
    ax.tick_params(axis='x', bottom=(ax in (ax_spx, ax_macd)), length=3, width=0.6,
                   color='#8a9aa6', labelbottom=False)
    ax.set_xlabel('')
    ax.set_ylabel('')
    for sp in ax.spines.values():
        sp.set_color('#9fb2bd')
        sp.set_linewidth(0.9)
        sp.set_visible(True)

for ax, dy in [(ax_spx, -6.5 / 642), (ax_macd, -9.5 / 223)]:
    for p, lab in zip(tick_pos, tick_labels):
        bold = not lab.isdigit()
        ax.text(p, dy, lab, transform=ax.get_xaxis_transform(), ha='center', va='center',
                fontsize=7.6 if bold else 7, fontweight='bold' if bold else 'normal',
                clip_on=False)

# ---- header ----
fig.text(17 / W, 1 - 11 / H, "$SPX", fontsize=9.5, fontweight='bold', va='center', ha='left')
fig.text(52 / W, 1 - 11 / H, "(S&P 500 Large Cap Index) INDX", fontsize=7.5, va='center', ha='left')
fig.text(17 / W, 1 - 23 / H, "23-Sep-2011", fontsize=7.5, va='center', ha='left')
fig.text(1475 / W, 1 - 11 / H, "\u00a9StockCharts.com", fontsize=7.5, color='#555555', va='center', ha='right')
head = [("Open", True), ("1128.82", False), ("High", True), ("1141.72", False),
        ("Low", True), ("1121.36", False), ("Close", True), ("1136.43", False),
        ("Volume", True), ("951.8M", False), ("Chg", True), ("+6.87 (+0.61%)", False)]
renderer = fig.canvas.get_renderer()
xpos = 1464
for txt, b in reversed(head):
    t = fig.text(xpos / W, 1 - 24 / H, txt, fontsize=7.5, fontweight='bold' if b else 'normal',
                 va='center', ha='right')
    bb = t.get_window_extent(renderer)
    xpos = bb.x0 - (3 if b else 8)
fig.text(1468 / W, 1 - 24 / H, "\u25b2", fontsize=5.5, color='#2a9a2a', va='center', ha='left',
         family=['DejaVu Sans'])

fig.savefig("out.png", dpi=100, facecolor='white')
